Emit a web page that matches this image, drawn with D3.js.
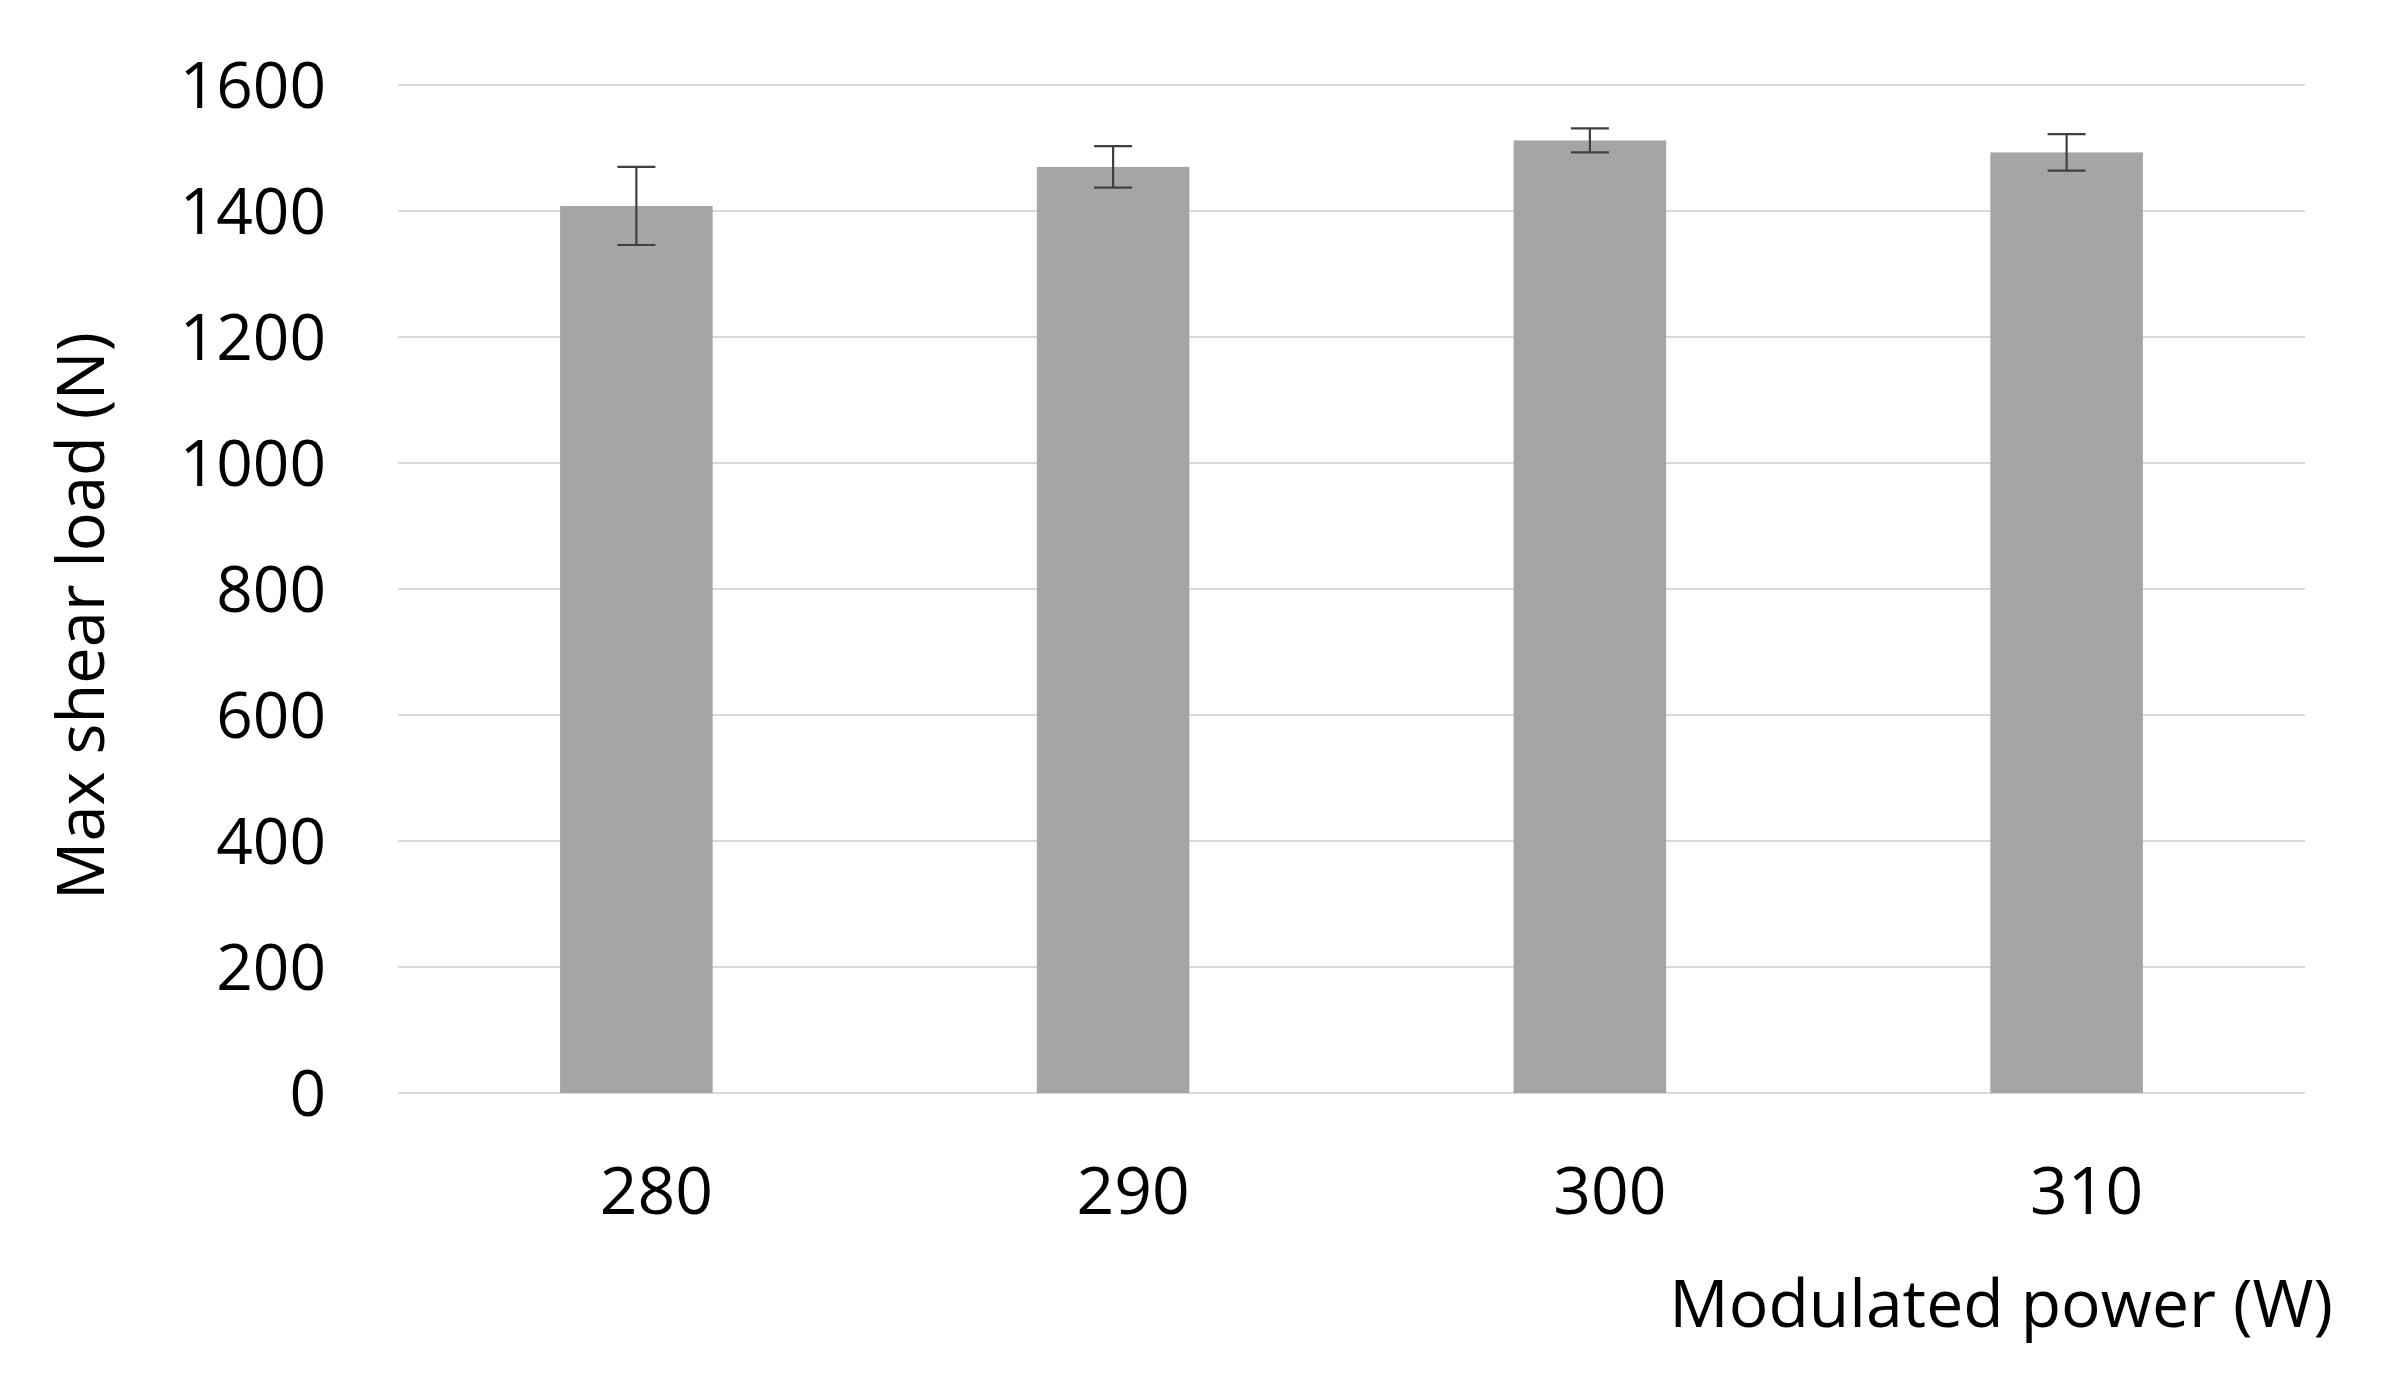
<!DOCTYPE html>
<html>
<head>
<meta charset="utf-8">
<script src="https://cdn.jsdelivr.net/npm/d3@7"></script>
<style>
  html, body { margin: 0; padding: 0; background: #ffffff; }
  svg { display: block; }
  text { font-family: "Open Sans", "Noto Sans", sans-serif; fill: #000; }
</style>
</head>
<body>
<script>
// ---- data ----
const categories = ["280", "290", "300", "310"];
const values = [1408, 1470, 1512, 1493];
const errors = [62, 33, 19, 29];
const yTicks = [0, 200, 400, 600, 800, 1000, 1200, 1400, 1600];
const xTitle = "Modulated power (W)";
const yTitle = "Max shear load (N)";

// ---- layout ----
const W = 2383, H = 1375;
const plot = { left: 398, right: 2305, top: 85, bottom: 1093 };

const svg = d3.select("body").append("svg")
  .attr("width", W).attr("height", H);

const x = d3.scaleBand().domain(categories)
  .range([plot.left, plot.right]).paddingInner(0).paddingOuter(0);
const y = d3.scaleLinear().domain([0, 1600]).range([plot.bottom, plot.top]);

// gridlines
svg.append("g").selectAll("line").data(yTicks).join("line")
  .attr("x1", plot.left).attr("x2", plot.right)
  .attr("y1", d => y(d)).attr("y2", d => y(d))
  .attr("stroke", "#d9d9d9").attr("stroke-width", 2);

// y tick labels
svg.append("g").selectAll("text").data(yTicks).join("text")
  .attr("x", 326).attr("y", d => y(d))
  .attr("dy", "0.36em")
  .attr("text-anchor", "end")
  .attr("font-size", 64)
  .text(d => d);

// bars
const barW = x.bandwidth() * 0.32;
const data = categories.map((c, i) => ({ c, v: values[i], e: errors[i] }));
svg.append("g").selectAll("rect").data(data).join("rect")
  .attr("x", d => x(d.c) + x.bandwidth() / 2 - barW / 2)
  .attr("width", barW)
  .attr("y", d => y(d.v))
  .attr("height", d => y(0) - y(d.v))
  .attr("fill", "#a5a5a5");

// error bars
const capW = 38;
const eg = svg.append("g").attr("stroke", "#404040").attr("stroke-width", 2.2);
data.forEach(d => {
  const cx = x(d.c) + x.bandwidth() / 2;
  eg.append("line").attr("x1", cx).attr("x2", cx)
    .attr("y1", y(d.v + d.e)).attr("y2", y(d.v - d.e));
  eg.append("line").attr("x1", cx - capW / 2).attr("x2", cx + capW / 2)
    .attr("y1", y(d.v + d.e)).attr("y2", y(d.v + d.e));
  eg.append("line").attr("x1", cx - capW / 2).attr("x2", cx + capW / 2)
    .attr("y1", y(d.v - d.e)).attr("y2", y(d.v - d.e));
});

// x tick labels (slightly right of bar centres, as in the reference)
svg.append("g").selectAll("text").data(categories).join("text")
  .attr("x", d => x(d) + x.bandwidth() / 2 + 20)
  .attr("y", 1214)
  .attr("text-anchor", "middle")
  .attr("font-size", 66)
  .text(d => d);

// axis titles
svg.append("text")
  .attr("x", 2333).attr("y", 1327)
  .attr("text-anchor", "end")
  .attr("font-size", 66)
  .text(xTitle);

svg.append("text")
  .attr("transform", "translate(104,616) rotate(-90)")
  .attr("text-anchor", "middle")
  .attr("font-size", 65)
  .text(yTitle);
</script>
</body>
</html>
